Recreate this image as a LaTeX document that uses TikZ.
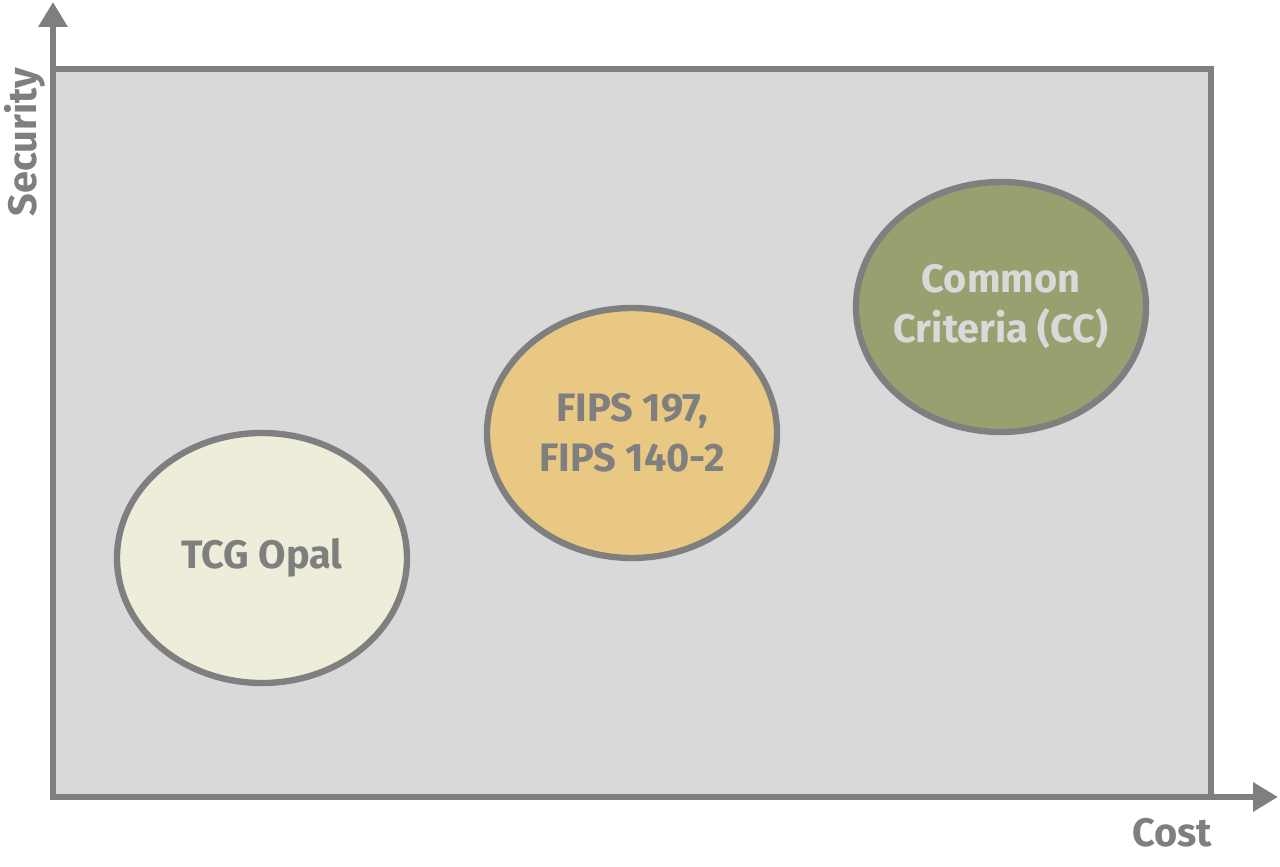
\documentclass[tikz,border=0pt]{standalone}
\usepackage{fontspec}
\setmainfont{Fira Sans}
\usetikzlibrary{arrows.meta, shapes.geometric, positioning}
\definecolor{axisgray}{RGB}{127,127,127}
\definecolor{planegray}{RGB}{217,217,217}
\definecolor{levelLow}{RGB}{238,237,217}
\definecolor{levelMid}{RGB}{233,200,131}
\definecolor{levelHigh}{RGB}{153,160,112}

\begin{document}
\begin{tikzpicture}[
    axis/.style={draw=axisgray, line width=1.8pt,
                 -{Triangle[length=2.5mm, width=2.8mm]}},
    axlbl/.style={text=axisgray, font=\fontsize{11.3}{14.2}\selectfont\bfseries},
    level/.style={ellipse, draw=axisgray, line width=1.8pt, inner sep=0pt,
                  minimum width=2.9cm, minimum height=2.5cm},
    lvltxt/.style={align=center, text=axisgray,
                   font=\fontsize{11.3}{14.2}\selectfont\bfseries}
  ]
    \useasboundingbox (0,0) rectangle (12.8,8.66);
    \fill[planegray] (0.53,0.69) rectangle (12.11,7.97);
    \draw[axisgray, line width=1.8pt] (0.53,0.69) rectangle (12.11,7.97);

    \coordinate (origin) at (0.53,0.69);
    \coordinate (ytip) at (0.53,8.64);
    \coordinate (xtip) at (12.78,0.69);
    \draw[axis] (origin) -- (ytip);
    \draw[axis] (origin) -- (xtip);

    \node[axlbl, rotate=90] (security) at (0.25,7.24) {Security};
    \node[axlbl] (cost) at (11.72,0.33) {Cost};

    \node[level, fill=levelLow,
          label={[lvltxt]center:TCG Opal}] (opal) at (2.62,3.08) {};
    \node[level, fill=levelMid,
          label={[lvltxt]center:FIPS 197,\\FIPS 140-2}] (fips) at (6.32,4.33) {};
    \node[level, fill=levelHigh,
          label={[lvltxt, text=planegray]center:Common\\Criteria (CC)}] (cc)
      at (10.01,5.59) {};
  \end{tikzpicture}
\end{document}
